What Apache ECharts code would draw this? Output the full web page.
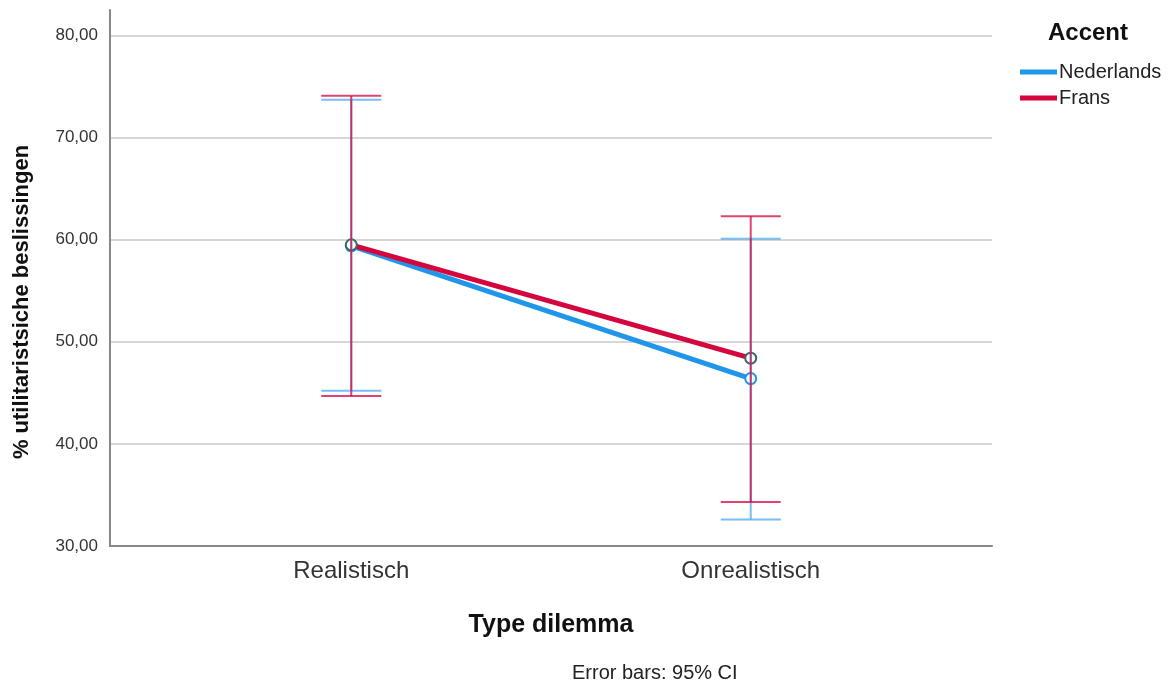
<!DOCTYPE html>
<html>
<head>
<meta charset="utf-8">
<script src="https://cdn.jsdelivr.net/npm/echarts@6/dist/echarts.min.js"></script>
<style>
  html, body { margin: 0; padding: 0; background: #fff; }
  #chart { width: 1168px; height: 684px; }
</style>
</head>
<body>
<div id="chart"></div>
<script>
const categories = ["Realistisch", "Onrealistisch"];
const nlMean = [59.4, 46.4];
const nlLow = [45.2, 32.6];
const nlHigh = [73.7, 60.1];
const frMean = [59.5, 48.4];
const frLow = [44.7, 34.3];
const frHigh = [74.1, 62.3];
const yTicks = [30, 40, 50, 60, 70, 80];

const blue = "#1f96e9";
const red = "#d5063e";
const font = "Liberation Sans";

const chart = echarts.init(document.getElementById("chart"));

function errorBars(low, high) {
  return categories.map((c, i) => [i, low[i], high[i]]);
}

// vertical whisker with two caps, drawn from the axis coords
function renderBar(color) {
  return (params, api) => {
    const top = api.coord([api.value(0), api.value(2)]);
    const bot = api.coord([api.value(0), api.value(1)]);
    const half = 30;
    const style = { stroke: color, lineWidth: 2, opacity: 0.75 };
    return {
      type: "group",
      children: [
        { type: "line", shape: { x1: top[0], y1: top[1], x2: bot[0], y2: bot[1] }, style },
        { type: "line", shape: { x1: top[0] - half, y1: top[1], x2: top[0] + half, y2: top[1] }, style },
        { type: "line", shape: { x1: bot[0] - half, y1: bot[1], x2: bot[0] + half, y2: bot[1] }, style },
      ],
    };
  };
}

const option = {
  animation: false,
  grid: { left: 110, right: 176, top: 10, bottom: 138 },
  xAxis: {
    type: "value",
    min: -0.604,
    max: 1.604,
    axisLine: { lineStyle: { color: "#888", width: 2 } },
    axisTick: { show: false },
    splitLine: { show: false },
    axisLabel: {
      customValues: [0, 1],
      formatter: (v) => categories[Math.round(v)] || "",
      fontSize: 24,
      color: "#333",
      fontFamily: font,
      margin: 13,
    },
  },
  yAxis: {
    type: "value",
    min: 30,
    max: 82.5,
    interval: 10,
    axisLine: { show: true, onZero: false, lineStyle: { color: "#888", width: 2 } },
    axisTick: { show: false },
    splitLine: { showMaxLine: false, lineStyle: { color: "#c8c8c8", width: 1.5 } },
    axisLabel: {
      formatter: (v) => (yTicks.includes(v) ? v.toFixed(2).replace(".", ",") : ""),
      fontSize: 17,
      color: "#333",
      fontFamily: font,
      margin: 12,
    },
  },
  legend: {
    data: [
      { name: "Nederlands", itemStyle: { color: blue, borderWidth: 0 } },
      { name: "Frans", itemStyle: { color: red, borderWidth: 0 } },
    ],
    orient: "vertical",
    left: 1015,
    top: 57,
    icon: "rect",
    itemWidth: 37,
    itemHeight: 5,
    itemGap: 6,
    textStyle: { fontSize: 20, color: "#222", fontFamily: font, padding: [2, 0, 0, -3] },
  },
  graphic: [
    {
      type: "text",
      x: 1088,
      y: 33,
      style: {
        text: "Accent", fontSize: 24, fontWeight: "bold", fill: "#111", fontFamily: font,
        align: "center", verticalAlign: "middle",
      },
    },
    {
      type: "text",
      x: 22,
      y: 302,
      rotation: Math.PI / 2,
      style: {
        text: "% utilitaristsiche beslissingen", fontSize: 22, fontWeight: "bold", fill: "#111",
        fontFamily: font, align: "center", verticalAlign: "middle",
      },
    },
    {
      type: "text",
      x: 551,
      y: 625,
      style: {
        text: "Type dilemma", fontSize: 25, fontWeight: "bold", fill: "#111", fontFamily: font,
        align: "center", verticalAlign: "middle",
      },
    },
    {
      type: "text",
      x: 572,
      y: 673,
      style: { text: "Error bars: 95% CI", fontSize: 20, fill: "#222", fontFamily: font, verticalAlign: "middle" },
    },
  ],
  series: [
    {
      name: "Nederlands",
      type: "line",
      data: categories.map((c, i) => [i, nlMean[i]]),
      lineStyle: { color: blue, width: 5 },
      itemStyle: { color: "#fff", borderColor: blue, borderWidth: 2 },
      symbol: "circle",
      symbolSize: 11,
      z: 2,
    },
    {
      name: "Frans",
      type: "line",
      data: categories.map((c, i) => [i, frMean[i]]),
      lineStyle: { color: red, width: 5 },
      itemStyle: { color: "#fff", borderColor: "#3a6b68", borderWidth: 2 },
      symbol: "circle",
      symbolSize: 11,
      z: 3,
    },
    {
      name: "nlCI",
      type: "custom",
      data: errorBars(nlLow, nlHigh),
      renderItem: renderBar("#4aaaf0"),
      z: 4,
    },
    {
      name: "frCI",
      type: "custom",
      data: errorBars(frLow, frHigh),
      renderItem: renderBar(red),
      z: 5,
    },
  ],
};

chart.setOption(option);
window.addEventListener("resize", () => chart.resize());
</script>
</body>
</html>
